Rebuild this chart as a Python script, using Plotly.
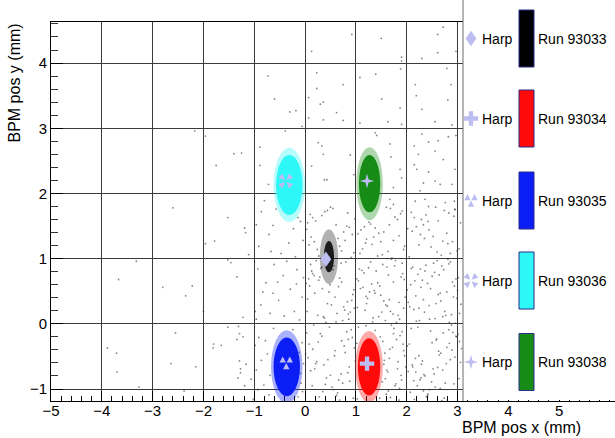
import plotly.graph_objects as go

# ---- data ---------------------------------------------------------------
runs = ["Run 93033", "Run 93034", "Run 93035", "Run 93036", "Run 93038"]
run_colors = ["#000000", "#ff0a0a", "#0a1ef5", "#2ef7f7", "#168c16"]

# BPM beam-spot centre and extent (mm) for each run
spot_x = [0.47, 1.26, -0.36, -0.31, 1.27]
spot_y = [1.03, -0.66, -0.66, 2.13, 2.15]
core_wx = [0.10, 0.22, 0.26, 0.26, 0.21]
core_wy = [0.24, 0.44, 0.45, 0.46, 0.44]
halo_wx = [0.18, 0.27, 0.31, 0.31, 0.26]
halo_wy = [0.42, 0.55, 0.56, 0.57, 0.56]

# harp-scanner positions (mm) for the same runs
harp_x = [0.41, 1.22, -0.37, -0.38, 1.22]
harp_y = [0.99, -0.61, -0.60, 2.19, 2.19]
harp_symbols = ["diamond", "cross", "three_triangles", "four_triangles", "star"]

# sparse BPM entries outside the beam spots (mm)
bg_upper = [
    (-2.17, 2.96), (-1.96, 2.88), (-1.40, 2.61), (-1.25, 2.62), (-1.75, 2.43), (-2.6, 1.78),
    (-1.52, 1.63), (-1.19, 1.47), (-1.17, 1.40), (-1.78, 1.27), (-1.96, 1.23), (-1.11, 1.06),
    (-1.52, 0.98), (-1.46, 0.94), (-3.32, 0.96), (-3.67, 0.68), (-1.34, 0.72), (-2.80, 0.56),
    (-2.22, 0.58), (-2.35, 0.43), (-2.0, 0.19), (-1.22, 0.10), (-0.98, 0.19), (-1.52, -0.05),
    (-1.31, -0.04), (-2.55, -0.14), (-1.29, -0.15), (-1.22, -0.20), (-1.34, -0.24), (-3.89, -0.37),
    (-3.71, -0.45), (-1.80, -0.31), (-1.65, -0.33), (-1.81, -0.37), (-0.98, -0.33), (-3.70, -0.74),
    (-2.64, -0.61), (-2.15, -0.66), (-1.29, -0.57), (-1.16, -0.62), (-1.27, -0.69), (-1.27, -0.75),
    (-1.32, -0.83), (-1.06, -0.85), (-1.19, -0.95), (-3.27, -0.97), (-2.38, -1.03), (-1.02, -1.16),
    (0.92, 4.44), (1.50, 4.38), (2.61, 4.44), (2.72, 4.55), (0.13, 4.18), (2.61, 4.16), (2.30, 4.07),
    (1.90, 4.09), (1.90, 4.03), (2.97, 4.18), (-0.73, 3.80), (0.23, 3.85), (1.88, 3.91), (2.79, 3.92),
    (1.39, 3.83), (1.08, 3.78), (0.23, 3.61), (0.75, 3.67), (2.17, 3.67), (2.87, 3.67), (-0.60, 3.45),
    (0.07, 3.47), (0.36, 3.40), (0.30, 3.37), (1.51, 3.45), (2.19, 3.50), (2.81, 3.43), (1.87, 3.31),
    (2.30, 3.29), (-0.30, 3.25), (-0.18, 3.27), (0.62, 3.24), (0.07, 3.16), (0.36, 3.13), (0.75, 3.12),
    (1.08, 3.08), (1.63, 3.10), (1.90, 3.06), (2.56, 3.10), (2.89, 3.05), (-0.06, 3.03), (-0.39, 2.96),
    (1.38, 2.93), (1.41, 2.89), (2.30, 2.91), (2.82, 2.87), (2.97, 2.89), (-0.89, 2.71), (0.26, 2.78),
    (0.33, 2.73), (2.43, 2.79), (2.62, 2.81), (1.67, 2.76), (2.15, 2.73), (0.36, 2.60), (0.89, 2.59),
    (2.56, 2.65), (1.69, 2.56), (2.23, 2.60), (2.72, 2.52), (-0.89, 2.43), (0.13, 2.42), (2.15, 2.44),
    (2.20, 2.37), (2.43, 2.33), (1.87, 2.37), (2.95, 2.37), (0.38, 2.21), (0.43, 2.21), (0.96, 2.29),
    (1.90, 2.24), (2.33, 2.16), (2.56, 2.19), (2.66, 2.14), (2.89, 2.14), (1.74, 2.09), (2.26, 2.04),
    (-0.72, 2.14), (-0.80, 1.89), (2.17, 1.88), (2.36, 1.91), (2.43, 1.80), (2.76, 1.86), (2.94, 1.88),
    (1.67, 1.91), (1.74, 1.83), (2.95, 1.75),
]
bg_left = [
    (-0.86, 1.72), (-0.63, 1.51), (-0.14, 1.63), (-0.04, 1.28), (-0.91, 1.19), (-0.47, 1.08),
    (-0.71, 1.37), (-0.23, 1.46), (-0.57, 1.76), (-0.32, 1.24), (-0.96, 1.52), (-0.19, 1.03),
    (-0.67, 1.11), (-0.09, 1.57), (-0.93, 0.84), (-0.77, 0.63), (-0.61, 0.91), (-0.43, 0.74),
    (-0.29, 0.53), (-0.16, 0.83), (-0.06, 0.41), (-0.87, 0.29), (-0.69, 0.16), (-0.52, 0.36),
    (-0.21, 0.19), (-0.11, 0.06), (-0.96, 0.07), (-0.36, 0.96), (-0.63, 0.47), (-0.17, 0.61),
    (-0.83, 0.49), (-0.41, 0.12), (-0.03, 0.71), (-0.54, 0.64), (-0.91, -0.21), (-0.74, -0.46),
    (-0.96, -0.71), (-0.81, -0.94), (-0.71, -1.09), (-0.06, -0.29), (-0.03, -0.61), (-0.08, -0.91),
    (-0.14, -1.12), (-0.62, -0.07), (-0.24, -0.09), (-0.86, -0.56), (-0.69, -0.79), (-0.12, -0.44),
    (-0.05, -1.04), (-0.93, -1.01), (-0.78, -0.26), (-0.09, -0.76),
    (1.05, -0.05), (1.2, -0.03), (1.38, -0.1), (1.03, -1.15), (1.47, -1.14), (1.02, -0.3), (1.48, -0.2),
]
bg_blocks_x = [
    [0.61, 0.08, 0.84, 0.27, 0.93, 0.15, 0.72, 0.44, 0.03, 0.79, 0.21, 0.96, 0.55, 0.12, 0.87, 0.33,
     0.68, 0.05, 0.91, 0.39, 0.76, 0.18, 0.98, 0.5, 0.24, 0.82, 0.1, 0.65],
    [0.52, 0.13, 0.86, 0.34, 0.71, 0.05, 0.63, 0.27, 0.94, 0.41, 0.18, 0.78, 0.57, 0.09, 0.83, 0.36,
     0.68, 0.22, 0.97, 0.47, 0.02, 0.74, 0.31, 0.59, 0.89, 0.15, 0.44, 0.8, 0.25, 0.66, 0.07, 0.92,
     0.38, 0.55, 0.19, 0.76, 0.49, 0.11, 0.85, 0.29, 0.61, 0.96, 0.33, 0.72, 0.04],
    [0.37, 0.82, 0.14, 0.59, 0.95, 0.26, 0.71, 0.48, 0.06, 0.88, 0.33, 0.64, 0.19, 0.77, 0.53, 0.01,
     0.91, 0.42, 0.68, 0.23, 0.85, 0.11, 0.56, 0.97, 0.3, 0.74, 0.45, 0.08, 0.62, 0.87, 0.17, 0.5,
     0.79, 0.35, 0.93, 0.21, 0.66, 0.03, 0.58, 0.84, 0.28, 0.72, 0.4, 0.99, 0.15],
    [1.32, 1.77, 1.08, 1.55, 1.91, 1.21, 1.66, 1.43, 1.85, 1.13, 1.6, 1.38, 1.96, 1.26, 1.71, 1.04,
     1.49, 1.82, 1.17, 1.63, 1.35, 1.88, 1.52, 1.1, 1.74, 1.29, 1.94, 1.45, 1.68, 1.19],
    [1.47, 1.83, 1.12, 1.66, 1.29, 1.94, 1.05, 1.58, 1.38, 1.76, 1.21, 1.89, 1.51, 1.09, 1.7, 1.34,
     1.97, 1.16, 1.62, 1.43, 1.8, 1.25, 1.55, 1.02, 1.73, 1.36, 1.91, 1.18, 1.64, 1.49, 1.86, 1.31,
     1.07, 1.59, 1.78, 1.23, 1.45, 1.95, 1.14, 1.68, 1.4, 1.85, 1.27, 1.53, 1.03, 1.74, 1.33, 1.92,
     1.2, 1.61],
    [1.72, 1.58, 1.91, 1.64, 1.83, 1.53, 1.77, 1.96, 1.61, 1.87, 1.68, 1.55, 1.94, 1.75, 1.6, 1.89,
     1.66, 1.8, 1.52, 1.98, 1.7, 1.85, 1.57, 1.79, 1.93, 1.63, 1.86, 1.74, 1.56, 1.9, 1.67, 1.82],
    [2.52, 2.09, 2.86, 2.33, 2.71, 2.15, 3.03, 2.44, 2.95, 2.24, 2.62, 2.05, 2.79, 2.38, 2.99, 2.19,
     2.57, 2.9, 2.29, 2.68, 2.11, 2.83, 2.48, 3.06, 2.35, 2.74, 2.02, 2.6, 2.93, 2.27, 2.81, 2.42],
    [2.41, 2.88, 2.12, 2.67, 3.02, 2.25, 2.79, 2.53, 2.06, 2.94, 2.36, 2.71, 2.18, 2.6, 3.07, 2.31,
     2.84, 2.47, 2.09, 2.75, 2.99, 2.22, 2.56, 2.9, 2.38, 2.03, 2.66, 2.81, 2.14, 2.5, 3.04, 2.28,
     2.73, 2.44, 2.97, 2.19, 2.62, 2.86, 2.33, 2.08, 2.77, 2.55, 3.0, 2.24, 2.69, 2.45, 2.92, 2.16,
     2.58, 2.83, 2.35, 2.01, 2.64, 2.96, 2.27],
    [2.63, 2.07, 2.91, 2.34, 2.78, 2.15, 3.04, 2.49, 2.22, 2.86, 2.56, 2.01, 2.71, 2.39, 2.97, 2.12,
     2.64, 2.28, 2.83, 2.45, 3.08, 2.18, 2.59, 2.93, 2.31, 2.74, 2.05, 2.52, 2.88, 2.26, 2.67, 3.01,
     2.42, 2.11, 2.79, 2.36, 2.95, 2.21, 2.58, 2.03, 2.69, 2.47, 3.06, 2.14, 2.84, 2.33, 2.61, 2.98,
     2.24, 2.76, 2.09, 2.54, 2.89, 2.41, 2.17, 2.72, 3.03, 2.29, 2.66, 2.5],
]
bg_blocks_y = [
    [1.52, 1.21, 1.7, 1.04, 1.37, 1.63, 1.12, 1.74, 1.45, 1.28, 1.58, 1.09, 1.77, 1.33, 1.48, 1.66,
     1.19, 1.55, 1.02, 1.72, 1.41, 1.26, 1.61, 1.79, 1.14, 1.5, 1.68, 1.31],
    [0.29, 0.81, 0.07, 0.54, 0.93, 0.38, 0.16, 0.67, 0.45, 0.02, 0.74, 0.21, 0.89, 0.58, 0.34, 0.11,
     0.7, 0.97, 0.24, 0.49, 0.62, 0.05, 0.85, 0.41, 0.18, 0.77, 0.31, 0.95, 0.13, 0.57, 0.69, 0.36,
     0.09, 0.83, 0.47, 0.26, 0.6, 0.91, 0.15, 0.72, 0.03, 0.52, 0.87, 0.64, 0.19],
    [-0.63, -0.12, -0.95, -0.41, -1.14, -0.28, -0.77, -0.05, -0.52, -0.88, -0.19, -1.06, -0.69, -0.34,
     -0.97, -0.46, -0.09, -0.83, -1.17, -0.58, -0.24, -0.72, -1.01, -0.37, -0.15, -0.91, -0.55, -0.31,
     -1.1, -0.66, -0.02, -0.79, -0.44, -1.04, -0.21, -0.61, -0.86, -0.14, -0.49, -0.75, -1.12, -0.26,
     -0.93, -0.57, -0.39],
    [1.22, 1.64, 1.08, 1.41, 1.73, 1.3, 1.52, 1.04, 1.35, 1.15, 1.79, 1.47, 1.19, 1.56, 1.01, 1.38,
     1.26, 1.6, 1.49, 1.11, 1.33, 1.69, 1.06, 1.44, 1.28, 1.53, 1.14, 1.39, 1.77, 1.24],
    [0.58, 0.13, 0.82, 0.37, 0.95, 0.24, 0.66, 0.05, 0.47, 0.89, 0.31, 0.72, 0.18, 0.54, 0.99, 0.09,
     0.41, 0.78, 0.27, 0.63, 0.02, 0.86, 0.35, 0.69, 0.15, 0.51, 0.93, 0.21, 0.75, 0.44, 0.07, 0.61,
     0.84, 0.29, 0.97, 0.39, 0.11, 0.68, 0.56, 0.19, 0.81, 0.33, 0.49, 0.91, 0.25, 0.64, 0.03, 0.77,
     0.42, 0.87],
    [-0.36, -0.84, -0.12, -1.03, -0.58, -0.27, -0.95, -0.49, -0.71, -0.18, -1.13, -0.62, -0.41, -0.07,
     -1.08, -0.79, -0.53, -0.24, -0.89, -0.66, -0.02, -1.17, -0.45, -0.92, -0.31, -0.74, -0.99, -0.15,
     -0.56, -0.86, -0.39, -0.69],
    [1.34, 1.71, 1.08, 1.52, 1.27, 1.63, 1.15, 1.44, 1.76, 1.21, 1.58, 1.03, 1.39, 1.67, 1.12, 1.49,
     1.79, 1.26, 1.6, 1.05, 1.42, 1.7, 1.18, 1.55, 1.31, 1.74, 1.46, 1.1, 1.65, 1.37, 1.23, 1.57],
    [0.62, 0.14, 0.87, 0.35, 0.71, 0.05, 0.49, 0.93, 0.26, 0.58, 0.81, 0.11, 0.43, 0.97, 0.3, 0.67,
     0.02, 0.54, 0.85, 0.19, 0.39, 0.76, 0.08, 0.64, 0.9, 0.33, 0.47, 0.99, 0.22, 0.73, 0.16, 0.56,
     0.83, 0.28, 0.69, 0.04, 0.45, 0.95, 0.37, 0.6, 0.13, 0.79, 0.51, 0.24, 0.89, 0.07, 0.41, 0.66,
     0.31, 0.92, 0.18, 0.52, 0.75, 0.01, 0.84],
    [-0.42, -1.05, -0.13, -0.78, -0.61, -1.16, -0.27, -0.89, -0.05, -0.55, -0.97, -0.34, -0.71, -1.12,
     -0.19, -0.66, -0.48, -0.83, -0.09, -1.01, -0.38, -0.74, -0.23, -0.92, -0.57, -1.14, -0.31, -0.69,
     -0.02, -0.86, -0.45, -0.16, -1.08, -0.63, -0.36, -0.8, -0.51, -0.95, -0.25, -0.73, -1.18, -0.11,
     -0.59, -0.87, -0.3, -1.03, -0.67, -0.2, -0.49, -0.91, -0.07, -0.77, -0.4, -1.1, -0.53, -0.14,
     -0.84, -0.62, -0.99, -0.29],
]

x_ticks = [-5, -4, -3, -2, -1, 0, 1, 2, 3, 4, 5]
y_ticks = [-1, 0, 1, 2, 3, 4]
x_range = [-5.0, 6.1]
y_range = [-1.184, 4.63]

# ---- geometry of the canvas (pixels) ----------------------------------
W, H = 615, 438
ML, MR, MT, MB = 51, 0, 22, 37
PW, PH = W - ML - MR, H - MT - MB
FONT = "Liberation Sans, Arial, Helvetica, sans-serif"
HARP_COLOR = "#bdbdf2"
SYM_SCALE = 1.2


def px_x(px):
    return (px - ML) / PW


def px_y(py):
    return (H - MB - py) / PH


def poly(points):
    return "M " + " L ".join(f"{x * SYM_SCALE:.2f} {y * SYM_SCALE:.2f}" for x, y in points) + " Z"


def four_triangles():
    parts = []
    for sx, sy in [(1, 1), (1, -1), (-1, 1), (-1, -1)]:
        parts.append(poly([(0.6 * sx, 0.6 * sy), (2.6 * sx, 6.2 * sy), (6.2 * sx, 2.6 * sy)]))
    return " ".join(parts)


SYMBOL_PATHS = {
    "diamond": poly([(0, 6.5), (4.5, 0), (0, -6.5), (-4.5, 0)]),
    "cross": poly([(-1.8, 6), (1.8, 6), (1.8, 1.8), (6, 1.8), (6, -1.8), (1.8, -1.8), (1.8, -6),
                   (-1.8, -6), (-1.8, -1.8), (-6, -1.8), (-6, 1.8), (-1.8, 1.8)]),
    "three_triangles": " ".join([
        poly([(-5.6, 0.3), (-0.3, 0.3), (-2.95, 5.4)]),
        poly([(0.3, 0.3), (5.6, 0.3), (2.95, 5.4)]),
        poly([(-2.65, -5.2), (2.65, -5.2), (0, -0.1)]),
    ]),
    "four_triangles": four_triangles(),
    "star": poly([(0, 6), (1.3, 1.3), (6, 0), (1.3, -1.3), (0, -6), (-1.3, -1.3),
                  (-6, 0), (-1.3, 1.3)]),
}


def symbol_shape(name, xa, ya, ref_x, ref_y):
    return dict(type="path", xref=ref_x, yref=ref_y, xsizemode="pixel", ysizemode="pixel",
                xanchor=xa, yanchor=ya, path=SYMBOL_PATHS[name],
                fillcolor=HARP_COLOR, line=dict(width=0), layer="above")


# ---- traces -------------------------------------------------------------
bg_x = [p[0] for p in bg_upper + bg_left]
bg_y = [p[1] for p in bg_upper + bg_left]
for bx, by in zip(bg_blocks_x, bg_blocks_y):
    n = min(len(bx), len(by))
    bg_x += bx[:n]
    bg_y += by[:n]

fig = go.Figure()
fig.add_trace(go.Scatter(
    x=bg_x, y=bg_y, mode="markers", hoverinfo="skip", showlegend=False,
    marker=dict(size=1.8, color="#333333", opacity=0.6, line=dict(width=0)),
))

shapes = []
# beam spots: faint halo, then the dense core
for i in range(len(runs)):
    alphas = [0.3, 0.85] if i == 0 else [0.35, 1.0]
    for wx, wy, a in [(halo_wx[i], halo_wy[i], alphas[0]),
                      (core_wx[i], core_wy[i], alphas[1])]:
        shapes.append(dict(type="circle", xref="x", yref="y",
                           x0=spot_x[i] - wx, x1=spot_x[i] + wx,
                           y0=spot_y[i] - wy, y1=spot_y[i] + wy,
                           fillcolor=run_colors[i], opacity=a,
                           line=dict(width=0), layer="above"))

# harp markers
for i in range(len(runs)):
    shapes.append(symbol_shape(harp_symbols[i], harp_x[i], harp_y[i], "x", "y"))

# legend panel
box_left = 463
shapes.append(dict(type="rect", xref="paper", yref="paper",
                   x0=px_x(box_left), x1=1.05, y0=1.0 / PH, y1=px_y(-2),
                   fillcolor="white", line=dict(width=0), layer="above"))
shapes.append(dict(type="line", xref="paper", yref="paper",
                   x0=px_x(box_left), x1=px_x(box_left), y0=0, y1=px_y(-2),
                   line=dict(color="#6a6a6a", width=1), layer="above"))

entry_cy = [38.5, 118.5, 200.5, 280.5, 362]
annotations = []
for i, cy in enumerate(entry_cy):
    shapes.append(symbol_shape(harp_symbols[i], px_x(471), px_y(cy), "paper", "paper"))
    shapes.append(dict(type="rect", xref="paper", yref="paper",
                       x0=px_x(519), x1=px_x(534), y0=px_y(cy + 28.5), y1=px_y(cy - 28.5),
                       fillcolor=run_colors[i], line=dict(color="#2b2b8a", width=1),
                       layer="above"))
    annotations.append(dict(text="Harp", xref="paper", yref="paper", x=px_x(480), y=px_y(cy),
                            xanchor="left", yanchor="middle", showarrow=False,
                            font=dict(family=FONT, size=14, color="black")))
    annotations.append(dict(text=runs[i], xref="paper", yref="paper", x=px_x(536), y=px_y(cy),
                            xanchor="left", yanchor="middle", showarrow=False,
                            font=dict(family=FONT, size=14, color="black")))

# axis titles
annotations.append(dict(text="BPM pos x (mm)", xref="paper", yref="paper",
                        x=px_x(583), y=px_y(438), xanchor="right", yanchor="bottom",
                        showarrow=False, font=dict(family=FONT, size=16, color="black")))
annotations.append(dict(text="BPM pos y (mm)", xref="paper", yref="paper",
                        x=px_x(14), y=px_y(22), xanchor="center", yanchor="top",
                        textangle=-90, showarrow=False,
                        font=dict(family=FONT, size=16, color="black")))

axis_common = dict(
    showgrid=True, gridcolor="#3a3a3a", gridwidth=1, zeroline=False,
    showline=True, linecolor="black", linewidth=1, mirror=True,
    ticks="inside", tickcolor="black",
    tickfont=dict(family=FONT, size=15, color="black"),
)

fig.update_layout(
    width=W, height=H,
    margin=dict(l=ML, r=MR, t=MT, b=MB, pad=0),
    paper_bgcolor="white", plot_bgcolor="white",
    showlegend=False,
    shapes=shapes, annotations=annotations,
    xaxis=dict(range=x_range, tickmode="array", tickvals=x_ticks, ticklen=10,
               ticklabelstandoff=-4,
               minor=dict(dtick=0.2, tick0=0, ticks="inside", ticklen=5,
                          tickcolor="black", showgrid=False),
               **axis_common),
    yaxis=dict(range=y_range, tickmode="array", tickvals=y_ticks, ticklen=12,
               minor=dict(dtick=0.2, tick0=0, ticks="inside", ticklen=7,
                          tickcolor="#333", showgrid=False),
               **axis_common),
)

fig.write_html("out.html")
